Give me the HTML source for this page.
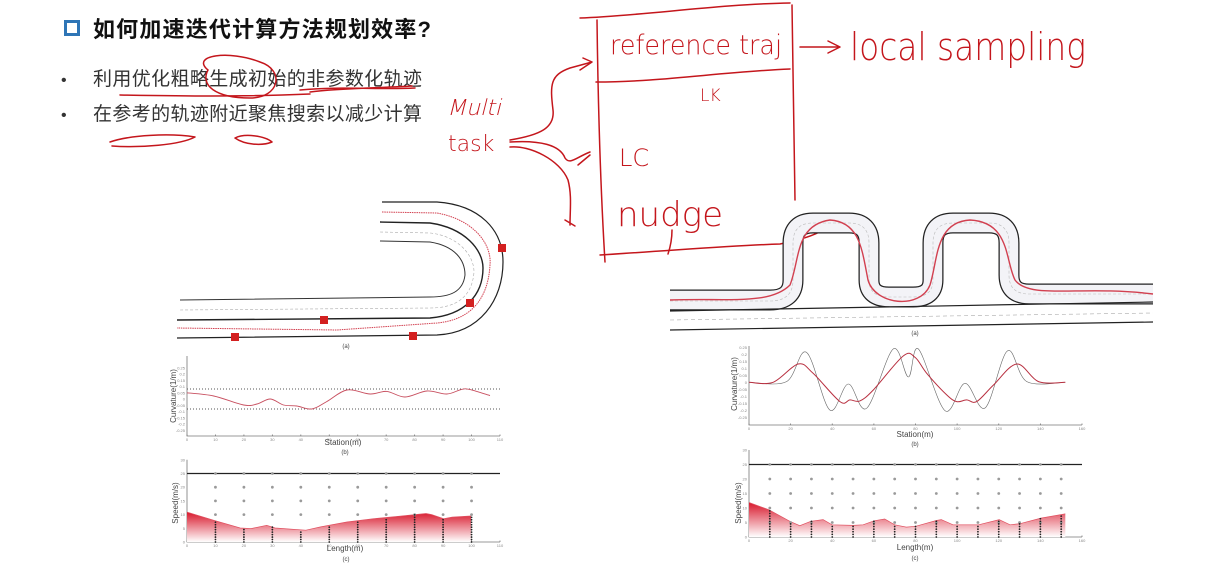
<!DOCTYPE html>
<html><head><meta charset="utf-8">
<style>
html,body{margin:0;padding:0;background:#fff;}
svg{display:block;}
.hw{fill:none;stroke:#c4161c;stroke-width:1.5;stroke-linecap:round;stroke-linejoin:round;}
.hwt{fill:#c4161c;font-family:"DejaVu Sans ExtraLight","DejaVu Sans Light","Liberation Sans Narrow","Liberation Sans",sans-serif;font-weight:200;}
.ax{stroke:#777;stroke-width:0.8;fill:none;}
.tk{font-family:"Liberation Sans",sans-serif;font-size:4px;fill:#888;}
.lab{font-family:"Liberation Sans",sans-serif;fill:#444;}
</style></head>
<body>
<svg id="slide" width="1213" height="575" viewBox="0 0 1213 575" xmlns="http://www.w3.org/2000/svg">
  <rect x="65.5" y="21.5" width="13" height="13" fill="none" stroke="#2e75b6" stroke-width="3"/>
  <text x="93" y="37" font-family="Liberation Sans, Noto Sans CJK SC, sans-serif" font-size="22" font-weight="bold" fill="#111" textLength="338">如何加速迭代计算方法规划效率?</text>
  <text x="61" y="85" font-family="Liberation Sans, sans-serif" font-size="16" fill="#333">•</text>
  <text x="93" y="85" font-family="Liberation Sans, Noto Sans CJK SC, sans-serif" font-size="19" fill="#333" textLength="329">利用优化粗略生成初始的非参数化轨迹</text>
  <text x="61" y="120" font-family="Liberation Sans, sans-serif" font-size="16" fill="#333">•</text>
  <text x="93" y="120" font-family="Liberation Sans, Noto Sans CJK SC, sans-serif" font-size="19" fill="#333" textLength="329">在参考的轨迹附近聚焦搜索以减少计算</text>

  <g>
    <path class="hw" d="M208,70 C190,55 230,50 260,62 C285,70 280,98 250,98 C215,98 200,85 208,70"/>
    <path class="hw" d="M120,95 C180,96 240,97 310,94"/>
    <path class="hw" d="M300,90 C340,86 380,90 415,88"/>
    <path class="hw" stroke-width="2.5" d="M310,92 C340,88 380,88 412,86"/>
    <path class="hw" d="M110,142 C130,135 170,133 195,137 C180,145 140,148 112,146"/>
    <path class="hw" d="M235,138 C245,133 265,136 272,142 C262,146 245,145 235,138"/>
    <text class="hwt" x="447" y="115" font-size="22" font-style="italic">Multi</text>
    <text class="hwt" x="448" y="151" font-size="22">task</text>
    <path class="hw" d="M510,140 C540,135 555,128 553,110 C550,85 550,75 570,68 L592,62 M580,70 L592,62 L583,58"/>
    <path class="hw" d="M510,142 C540,140 560,145 565,158 C570,165 575,158 590,152 M578,165 L590,155"/>
    <path class="hw" d="M510,147 C530,145 560,160 568,180 C572,195 570,210 570,225 M565,220 L575,226"/>
    <path class="hw" d="M580,18 C640,16 720,4 790,3"/>
    <path class="hw" d="M597,20 C598,100 600,180 605,262"/>
    <path class="hw" d="M792,5 C793,70 794,140 795,200"/>
    <path class="hw" stroke-width="2" d="M596,82 C660,82 720,72 790,69"/>
    <path class="hw" d="M600,255 C680,250 740,245 780,244 C800,240 815,235 823,230"/>
    <path class="hw" d="M672,230 C672,240 670,248 668,254"/>
    <text class="hwt" x="610" y="54" font-size="27" textLength="172" lengthAdjust="spacingAndGlyphs">reference traj</text>
    <path class="hw" d="M800,47 L838,47 M828,41 L840,47 L828,53"/>
    <text class="hwt" x="850" y="60" font-size="38" textLength="236" lengthAdjust="spacingAndGlyphs">local sampling</text>
    <text class="hwt" x="700" y="101" font-size="17">LK</text>
    <text class="hwt" x="619" y="166" font-size="24">LC</text>
    <text class="hwt" x="617" y="226" font-size="34">nudge</text>
  </g>

  <g>
    <path d="M382,202 L437,202 C480,205 503,230 503,262 C503,300 480,333 437,335 L177,338" fill="none" stroke="#222" stroke-width="1.2"/>
    <path d="M380,222 L430,223 C465,228 483,250 483,268 C483,295 465,315 430,318 L177,320" fill="none" stroke="#222" stroke-width="1.4"/>
    <path d="M380,241 L430,242 C455,246 465,260 465,275 C463,292 450,297 430,297 L180,300" fill="none" stroke="#333" stroke-width="1"/>
    <path d="M380,232 L430,233 C458,236 474,255 474,272 C472,298 455,308 430,308 L180,310" fill="none" stroke="#aaa" stroke-width="0.6" stroke-dasharray="3,2"/>
    <path d="M382,212 L437,213 C475,220 492,245 490,265 C488,300 470,320 437,323 L337,330 L177,328" fill="none" stroke="#d24050" stroke-width="1" stroke-dasharray="1.5,0.8"/>
    <rect x="498" y="244" width="8" height="8" fill="#d32020"/>
    <rect x="466" y="299" width="8" height="8" fill="#d32020"/>
    <rect x="320" y="316" width="8" height="8" fill="#d32020"/>
    <rect x="409" y="332" width="8" height="8" fill="#d32020"/>
    <rect x="231" y="333" width="8" height="8" fill="#d32020"/>
    <text x="346" y="348" class="lab" font-size="6" text-anchor="middle">(a)</text>
  </g>

  <g>
    <path d="M670,300 L770,300 Q793,300 793,280 L793,243 Q793,223 813,223 L849,223 Q869,223 869,243 L869,280 Q869,297 889,297 L913,297 Q933,297 933,280 L933,243 Q933,223 953,223 L989,223 Q1009,223 1009,243 L1009,275 Q1009,294 1029,294 L1153,294" fill="none" stroke="#222" stroke-width="21" stroke-linejoin="round"/>
    <path d="M670,300 L770,300 Q793,300 793,280 L793,243 Q793,223 813,223 L849,223 Q869,223 869,243 L869,280 Q869,297 889,297 L913,297 Q933,297 933,280 L933,243 Q933,223 953,223 L989,223 Q1009,223 1009,243 L1009,275 Q1009,294 1029,294 L1153,294" fill="none" stroke="#f3f3f7" stroke-width="18.5" stroke-linejoin="round"/>
    <path d="M670,301 L770,301 Q793,301 793,280 L793,243 Q793,223 813,223 L849,223 Q869,223 869,243 L869,280 Q869,297 889,297 L913,297 Q933,297 933,280 L933,243 Q933,223 953,223 L989,223 Q1009,223 1009,243 L1009,275 Q1009,294 1029,294 L1153,294" fill="none" stroke="#bbb" stroke-width="0.6" stroke-dasharray="3,2"/>
    <path d="M670,300 C730,298 770,305 790,285 C800,260 795,225 830,220 C860,222 862,250 868,280 C875,305 920,310 930,285 C938,260 935,222 970,220 C1010,222 1005,260 1015,280 C1030,300 1080,285 1153,294" fill="none" stroke="#d24050" stroke-width="1.4"/>
    <line x1="670" y1="311" x2="1153" y2="302" stroke="#222" stroke-width="1.2"/>
    <line x1="670" y1="320" x2="1153" y2="313" stroke="#aaa" stroke-width="0.6" stroke-dasharray="4,3"/>
    <line x1="670" y1="330" x2="1153" y2="322" stroke="#222" stroke-width="1.2"/>
    <text x="915" y="335" class="lab" font-size="6" text-anchor="middle">(a)</text>
  </g>

  <defs>
    <linearGradient id="redfade" x1="0" y1="0" x2="0" y2="1">
      <stop offset="0" stop-color="#d8182c"/>
      <stop offset="1" stop-color="#ffffff"/>
    </linearGradient>
  </defs>
  <g id="charts"></g>
</svg>
<script>
const leftCurvStation = [0,9.4,19.9,24.6,29.3,33.9,38.6,43.9,49.1,56.2,64.4,70.2,76.6,84.3,91.3,96.5,99.5,106.5];
const leftCurvValue = [0.05,0.024,-0.048,-0.04,0,-0.048,-0.056,-0.08,-0.021,0.072,0.04,0.061,0.016,0.064,0.04,0.077,0.075,0.027];
const leftCurvLimits = [0.08,-0.08];
const leftCurvXTicks = [0,10,20,30,40,50,60,70,80,90,100,110];
const leftCurvYTicks = [0.25,0.2,0.15,0.1,0.05,0,-0.05,-0.1,-0.15,-0.2,-0.25];
const leftSpeedLength = [0,9.6,18.7,22.5,28,31,37.5,41.8,47,56.2,65.5,74.6,84,86,90.2,93.2,99.8];
const leftSpeedValue = [10.9,7.9,5.1,4.9,6.1,5.1,4.6,4.3,5.5,7.3,8.5,9.4,10.4,10.0,8.5,9.1,9.5];
const leftSpeedLimit = [25];
const leftSpeedGridRows = [10,15,20,25];
const leftSpeedColumns = [10,20,30,40,50,60,70,80,90,100];
const leftSpeedXTicks = [0,10,20,30,40,50,60,70,80,90,100,110];
const leftSpeedYTicks = [0,5,10,15,20,25,30];
const rightCurvStationRed = [0,11.6,23.6,30.8,43.7,48.5,53.3,59.7,74.1,79.8,85.4,95,99.8,104.6,109.4,117.5,128.7,139.1,152];
const rightCurvValueRed = [0,0,0.131,0.064,-0.138,-0.126,-0.133,-0.055,0.188,0.178,0.064,-0.09,-0.138,-0.126,-0.138,-0.019,0.131,0.005,0];
const rightCurvStationBlack = [0,18,27.6,38.8,47.7,56.5,69.3,76.6,81.4,94.2,103.8,113.5,124.2,133.5,152];
const rightCurvValueBlack = [0,0.005,0.214,-0.198,-0.012,-0.186,0.238,0.038,0.238,-0.203,-0.007,-0.183,0.224,0.005,0];
const rightCurvXTicks = [0,20,40,60,80,100,120,140,160];
const rightCurvYTicks = [0.25,0.2,0.15,0.1,0.05,0,-0.05,-0.1,-0.15,-0.2,-0.25];
const rightSpeedLength = [0,9.5,19.6,24.4,29.7,35.6,39.9,50,54.8,60.1,65.2,70,75.6,80.1,90,92.4,98,110.3,120.2,125.4,130.2,140.3,152];
const rightSpeedValue = [11.9,9.4,5.4,3.9,5.4,6.0,4.2,4.0,4.2,5.6,6.2,4.2,3.4,3.7,5.7,6.0,4.2,4.2,6.0,4.2,4.6,6.5,8.0];
const rightSpeedLimit = [25];
const rightSpeedGridRows = [5,10,15,20,25];
const rightSpeedColumns = [10,20,30,40,50,60,70,80,90,100,110,120,130,140,150];
const rightSpeedXTicks = [0,20,40,60,80,100,120,140,160];
const rightSpeedYTicks = [0,5,10,15,20,25,30];

const NS = 'http://www.w3.org/2000/svg';
const root = document.getElementById('charts');
function mk(tag, attrs, parent) {
  const e = document.createElementNS(NS, tag);
  for (const k in attrs) e.setAttribute(k, attrs[k]);
  (parent || root).appendChild(e);
  return e;
}
function linScale(d0, d1, r0, r1) { return v => r0 + (v - d0) / (d1 - d0) * (r1 - r0); }
function interp(xs, ys, x) {
  if (x <= xs[0]) return ys[0];
  for (let i = 1; i < xs.length; i++) if (x <= xs[i]) { const t = (x - xs[i-1]) / (xs[i] - xs[i-1]); return ys[i-1] + t * (ys[i] - ys[i-1]); }
  return ys[ys.length - 1];
}
function axes(g, x0, x1, y0, y1, xs, ys, xt, yt) {
  const a = mk('path', {d: `M${x0},${y1} L${x0},${y0} L${x1},${y0}`, class: 'ax'}, g);
  
  
  xt.forEach(v => {
    const t = mk('text', {x: xs(v), y: y0 + 5, class: 'tk', 'text-anchor': 'middle'}, g);
    t.textContent = v;
    
    
    mk('line', {x1: xs(v), x2: xs(v), y1: y0, y2: y0 - 1.5, class: 'ax'}, g);
  });
  yt.forEach(v => {
    const t = mk('text', {x: x0 - 2, y: ys(v) + 1.5, class: 'tk', 'text-anchor': 'end'}, g);
    t.textContent = v;
    
    
  });
}
function label(g, txt, x, y, size, rot, name) {
  const t = mk('text', {x: x, y: y, class: 'lab', 'font-size': size, 'text-anchor': 'middle'}, g);
  if (rot) t.setAttribute('transform', `rotate(-90 ${x} ${y})`);
  t.textContent = txt;
  
  
}
// smooth Catmull-Rom path through data points
function smoothPath(xs, ys, X, Y) {
  const P = X.map((v, i) => [xs(v), ys(Y[i])]);
  let d = 'M' + P[0][0].toFixed(1) + ',' + P[0][1].toFixed(1);
  for (let i = 0; i < P.length - 1; i++) {
    const p0 = P[i ? i - 1 : 0], p1 = P[i], p2 = P[i + 1], p3 = P[i + 2 < P.length ? i + 2 : i + 1];
    const c1 = [p1[0] + (p2[0] - p0[0]) / 6, p1[1] + (p2[1] - p0[1]) / 6];
    const c2 = [p2[0] - (p3[0] - p1[0]) / 6, p2[1] - (p3[1] - p1[1]) / 6];
    d += ` C${c1[0].toFixed(1)},${c1[1].toFixed(1)} ${c2[0].toFixed(1)},${c2[1].toFixed(1)} ${p2[0].toFixed(1)},${p2[1].toFixed(1)}`;
  }
  return d;
}
function linePath(xs, ys, X, Y) { return X.map((v, i) => (i ? 'L' : 'M') + xs(v).toFixed(1) + ',' + ys(Y[i]).toFixed(1)).join(' '); }

function curvChart(name, x0, x1, y0, y1, dom, yc, ysc, series, limits, xt, yt) {
  const g = mk('g', {});
  
  
  const xs = linScale(0, dom, x0, x1);
  const ys = v => yc - v * ysc;
  axes(g, x0, x1, y0, y1, xs, ys, xt, yt);
  (limits || []).forEach(l => {
    const d = mk('line', {x1: x0, x2: x1, y1: ys(l), y2: ys(l), stroke: '#555', 'stroke-width': 0.9, 'stroke-dasharray': '1,2'}, g);
    
    
  });
  series.forEach(s => {
    const p = mk('path', {d: smoothPath(xs, ys, s.x, s.y), fill: 'none', stroke: s.c, 'stroke-width': s.w}, g);
    
    
  });
  return g;
}
function speedChart(name, x0, x1, y0, dom, sc, L, V, lim, rows, cols, xt, yt) {
  const g = mk('g', {});
  
  
  const xs = linScale(0, dom, x0, x1);
  const ys = v => y0 - v * sc;
  axes(g, x0, x1, y0, ys(30), xs, ys, xt, yt);
  const area = mk('path', {d: linePath(xs, ys, L, V) + ` L${xs(L[L.length-1])},${y0} L${xs(L[0])},${y0} Z`, fill: 'url(#redfade)', stroke: 'none'}, g);
  
  
  const edge = mk('path', {d: linePath(xs, ys, L, V), fill: 'none', stroke: '#e05060', 'stroke-width': 0.7}, g);
  
  
  lim.forEach(l => {
    const ln = mk('line', {x1: x0, x2: x1, y1: ys(l), y2: ys(l), stroke: '#222', 'stroke-width': 1.3}, g);
    
    
  });
  cols.forEach(c => {
    rows.forEach(r => {
      const d = mk('circle', {cx: xs(c), cy: ys(r), r: 1.4, fill: '#9a9a9a'}, g);
      
      
    });
    const top = interp(L, V, c);
    for (let s = 0; s <= top; s += 0.9) {
      const d = mk('circle', {cx: xs(c), cy: ys(s), r: 0.9, fill: '#222'}, g);
      
      
    }
  });
  return g;
}

const g1 = curvChart('left-curvature-chart', 187, 500, 436, 356, 110, 399, 125,
  [{x: leftCurvStation, y: leftCurvValue, c: '#c85060', w: 0.9, n: 'left-curvature-line'}], leftCurvLimits, leftCurvXTicks, leftCurvYTicks);
label(g1, 'Curvature(1/m)', 176, 396, 8, true, 'left-curvature-y-title');
label(g1, 'Station(m)', 343, 445, 8, false, 'left-curvature-x-title');
label(g1, '(b)', 345, 454, 6, false, 'left-curvature-caption');

const g2 = speedChart('left-speed-chart', 187, 500, 542, 110, 2.74, leftSpeedLength, leftSpeedValue, leftSpeedLimit, leftSpeedGridRows, leftSpeedColumns, leftSpeedXTicks, leftSpeedYTicks);
label(g2, 'Speed(m/s)', 178, 503, 8, true, 'left-speed-y-title');
label(g2, 'Length(m)', 345, 551, 8, false, 'left-speed-x-title');
label(g2, '(c)', 346, 561, 6, false, 'left-speed-caption');

const g3 = curvChart('right-curvature-chart', 749, 1082, 425, 346, 160, 382.3, 140,
  [{x: rightCurvStationBlack, y: rightCurvValueBlack, c: '#666', w: 0.6, n: 'right-curvature-reference-line'},
   {x: rightCurvStationRed, y: rightCurvValueRed, c: '#b83040', w: 1, n: 'right-curvature-optimized-line'}], null, rightCurvXTicks, rightCurvYTicks);
label(g3, 'Curvature(1/m)', 737, 384, 8, true, 'right-curvature-y-title');
label(g3, 'Station(m)', 915, 437, 8, false, 'right-curvature-x-title');
label(g3, '(b)', 915, 446, 6, false, 'right-curvature-caption');

const g4 = speedChart('right-speed-chart', 749, 1082, 537, 160, 2.9, rightSpeedLength, rightSpeedValue, rightSpeedLimit, rightSpeedGridRows, rightSpeedColumns, rightSpeedXTicks, rightSpeedYTicks);
label(g4, 'Speed(m/s)', 741, 503, 8, true, 'right-speed-y-title');
label(g4, 'Length(m)', 915, 550, 8, false, 'right-speed-x-title');
label(g4, '(c)', 915, 560, 6, false, 'right-speed-caption');
</script>
</body></html>
